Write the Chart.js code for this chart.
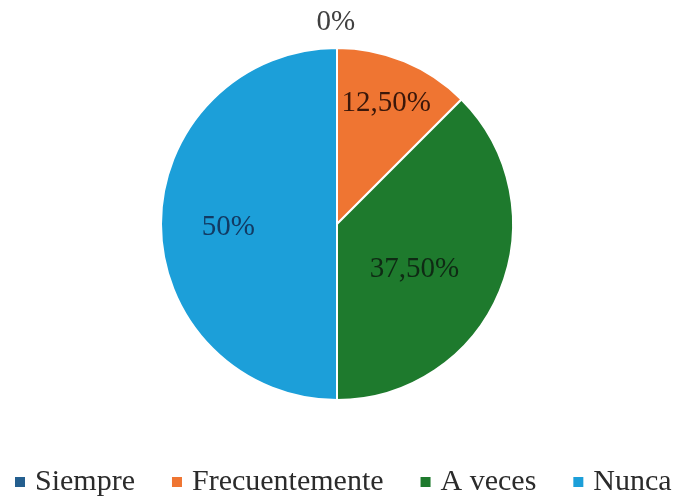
<!DOCTYPE html>
<html>
<head>
<meta charset="utf-8">
<script src="https://cdn.jsdelivr.net/npm/chart.js@4/dist/chart.umd.min.js"></script>
<style>
  html, body { margin: 0; padding: 0; background: #ffffff; }
  #wrap { width: 674px; height: 497px; }
</style>
</head>
<body>
<div id="wrap"><canvas id="pie" width="674" height="497"></canvas></div>
<script>
// Response categories and their shares (%)
const categories = ['Siempre', 'Frecuentemente', 'A veces', 'Nunca'];
const shares = [0, 12.5, 37.5, 50];
const valueLabels = ['0%', '12,50%', '37,50%', '50%'];

const sliceColors = ['#245f8f', '#ef7532', '#1e7a2d', '#1c9fd9'];
const labelColors = ['#404040', '#3a170a', '#0f2a14', '#123a63'];

// Label centres, as fractions of the pie radius from its centre
const labelSpots = [[-0.006, -1.143], [0.28, -0.686], [0.44, 0.257], [-0.617, 0.017]];

const serif = '"Liberation Serif", "Times New Roman", serif';

const pieLabels = {
  id: 'pieLabels',
  afterDatasetsDraw(chart) {
    const ctx = chart.ctx;
    const arcs = chart.getDatasetMeta(0).data;
    ctx.save();
    ctx.font = '29px ' + serif;
    ctx.textAlign = 'center';
    ctx.textBaseline = 'middle';
    arcs.forEach((arc, i) => {
      const r = arc.outerRadius;
      ctx.fillStyle = labelColors[i];
      ctx.fillText(valueLabels[i], arc.x + labelSpots[i][0] * r, arc.y + labelSpots[i][1] * r);
    });
    ctx.restore();
  }
};

const bottomLegend = {
  id: 'bottomLegend',
  afterDraw(chart) {
    const ctx = chart.ctx;
    ctx.save();
    ctx.font = '30px ' + serif;
    ctx.textBaseline = 'alphabetic';
    ctx.textAlign = 'left';
    let x = 15;
    const baseline = 490;
    categories.forEach((name, i) => {
      ctx.fillStyle = sliceColors[i];
      ctx.fillRect(x, 477, 10, 10);
      x += 20;
      ctx.fillStyle = '#2b2b2b';
      ctx.fillText(name, x, baseline);
      x += ctx.measureText(name).width + 37;
    });
    ctx.restore();
  }
};

new Chart(document.getElementById('pie'), {
  type: 'pie',
  data: {
    labels: categories,
    datasets: [{
      data: shares,
      backgroundColor: sliceColors,
      borderColor: '#ffffff',
      borderWidth: 2,
      hoverOffset: 0
    }]
  },
  options: {
    responsive: false,
    animation: false,
    events: [],
    layout: { padding: { top: 47, bottom: 96, left: 0, right: 0 } },
    plugins: {
      legend: { display: false },
      tooltip: { enabled: false }
    }
  },
  plugins: [pieLabels, bottomLegend]
});
</script>
</body>
</html>
